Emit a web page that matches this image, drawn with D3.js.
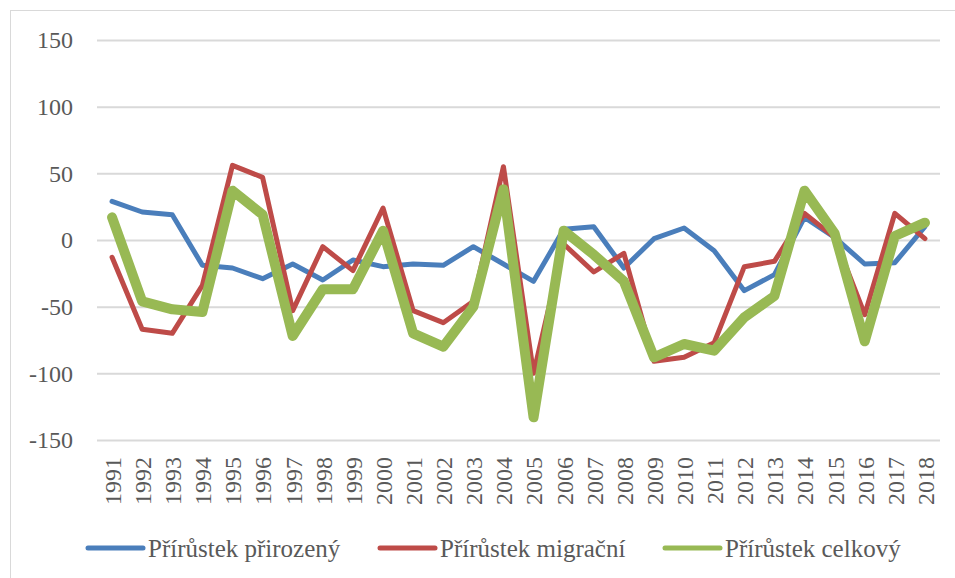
<!DOCTYPE html>
<html>
<head>
<meta charset="utf-8">
<script src="https://cdn.jsdelivr.net/npm/d3@7"></script>
<style>
  body { margin: 0; background: #fff; }
</style>
</head>
<body>
<div id="chart"></div>
<script>
// years on the x axis
const years = d3.range(1991, 2019).map(String);

// series values
const prirozeny = [29, 21, 19, -19, -21, -29, -18, -30, -15, -20, -18, -19, -5, -18, -31, 8, 10, -21, 1, 9, -8, -38, -26, 17, 2, -18, -17, 10];
const migracni = [-13, -67, -70, -34, 56, 47, -53, -5, -23, 24, -53, -62, -46, 55, -100, -3, -24, -10, -91, -88, -77, -20, -16, 20, 2, -56, 20, 1];
const celkovy = [17, -46, -52, -54, 37, 19, -72, -37, -37, 7, -70, -80, -50, 38, -133, 7, -11, -31, -88, -78, -83, -58, -42, 37, 5, -76, 3, 13];

const yTicks = [-150, -100, -50, 0, 50, 100, 150];
const seriesNames = ["Přírůstek přirozený", "Přírůstek migrační", "Přírůstek celkový"];

const series = [
  { name: seriesNames[0], values: prirozeny, color: "#4A7EBB", width: 5 },
  { name: seriesNames[1], values: migracni, color: "#BE4B48", width: 5 },
  { name: seriesNames[2], values: celkovy, color: "#98B954", width: 10 }
];

const serif = "'Liberation Serif', 'DejaVu Serif', serif";
const width = 955, height = 578;
const svg = d3.select("#chart").append("svg")
  .attr("width", width)
  .attr("height", height);

// chart area border
svg.append("rect")
  .attr("x", 10.5).attr("y", 10.5)
  .attr("width", width + 10).attr("height", height + 10)
  .attr("fill", "none")
  .attr("stroke", "#d9d9d9");

const x = d3.scalePoint().domain(years).range([97, 940]).padding(0.5);
const y = d3.scaleLinear().domain([-150, 150]).range([440, 40]);

// y axis with gridlines (plain hyphen for negatives, like the original)
const yAxis = svg.append("g")
  .attr("transform", "translate(97,0)")
  .call(d3.axisLeft(y).tickValues(yTicks).tickFormat(d => String(d)).tickSize(-843).tickPadding(24));
yAxis.select(".domain").remove();
yAxis.selectAll(".tick line").attr("stroke", "#d9d9d9").attr("stroke-width", 2);
yAxis.selectAll(".tick text")
  .style("font-family", serif)
  .style("font-size", "24px")
  .attr("fill", "#595959");

// x axis labels, rotated
const xAxis = svg.append("g")
  .attr("transform", "translate(0,440)")
  .call(d3.axisBottom(x).tickSize(0));
xAxis.select(".domain").remove();
xAxis.selectAll(".tick text")
  .style("font-family", serif)
  .style("font-size", "24px")
  .attr("fill", "#595959")
  .attr("text-anchor", "end")
  .attr("transform", "rotate(-90)")
  .attr("x", -17)
  .attr("y", 0)
  .attr("dy", "0.35em");

// lines
const line = d3.line()
  .x((d, i) => x(years[i]))
  .y(d => y(d));

svg.selectAll(".series")
  .data(series)
  .enter()
  .append("path")
  .attr("class", "series")
  .attr("d", d => line(d.values))
  .attr("fill", "none")
  .attr("stroke", d => d.color)
  .attr("stroke-width", d => d.width)
  .attr("stroke-linejoin", "round")
  .attr("stroke-linecap", "round");

// legend
const legendX = [88, 380, 665];
const legend = svg.selectAll(".legend")
  .data(series)
  .enter()
  .append("g")
  .attr("class", "legend")
  .attr("transform", (d, i) => `translate(${legendX[i]},548)`);

legend.append("line")
  .attr("x1", 0).attr("x2", 55)
  .attr("y1", 0).attr("y2", 0)
  .attr("stroke", d => d.color)
  .attr("stroke-width", 5)
  .attr("stroke-linecap", "round");

legend.append("text")
  .attr("x", 60)
  .attr("dy", "0.35em")
  .style("font-family", serif)
  .style("font-size", "25px")
  .attr("fill", "#595959")
  .text(d => d.name);
</script>
</body>
</html>
